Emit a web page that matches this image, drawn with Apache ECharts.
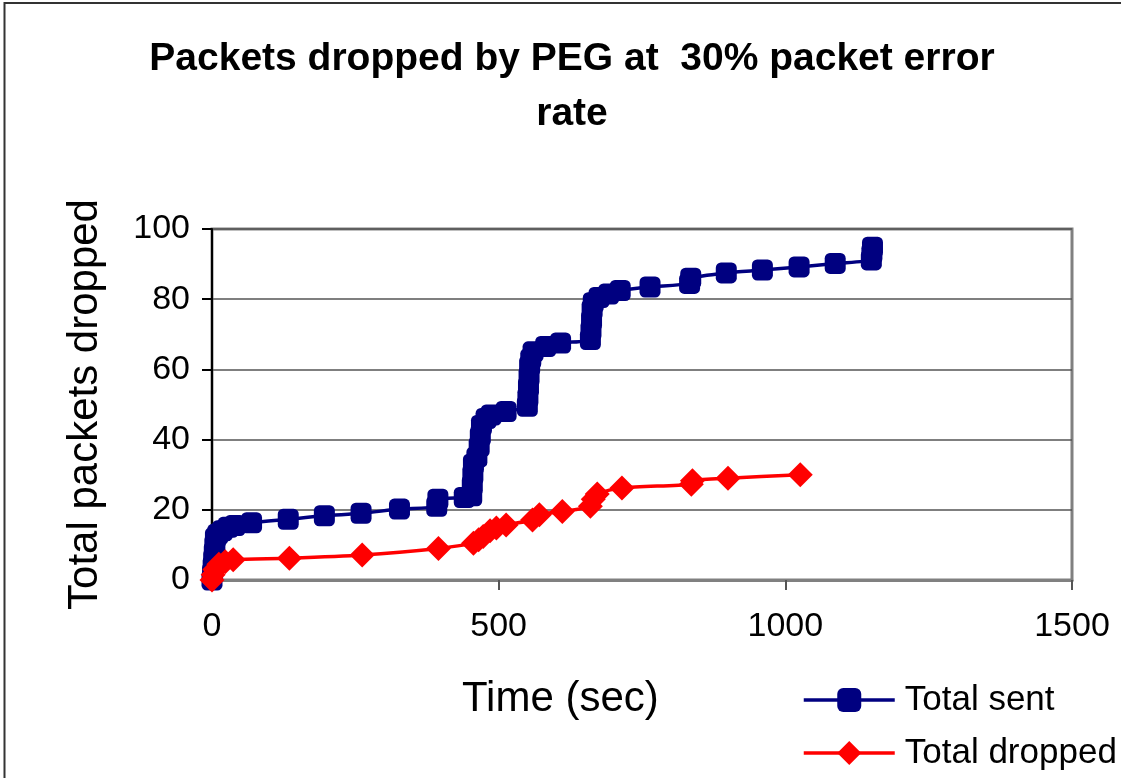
<!DOCTYPE html>
<html>
<head>
<meta charset="utf-8">
<script src="https://cdn.jsdelivr.net/npm/echarts@6/dist/echarts.min.js"></script>
<style>
  html, body { margin: 0; padding: 0; background: #fff; }
  #chart { width: 1121px; height: 778px; }
</style>
</head>
<body>
<div id="chart"></div>
<script>
// Total sent (time in sec, cumulative packets)
const sentTime  = [0, 1, 2, 3, 4, 5, 6, 10, 18, 28, 40, 69, 133, 196, 260, 327, 392, 394, 440,
  453, 454, 455, 456, 462, 466, 468, 470, 478, 487, 513, 550, 551, 552, 553, 554, 556, 560,
  582, 608, 660, 661, 662, 663, 665, 675, 692, 712, 764, 833, 835, 897, 960, 1024, 1087,
  1150, 1151, 1152];
const sentTotal = [0, 2, 4, 6, 8, 10, 12, 13, 14, 15, 15.5, 16.3, 17.3, 18.3, 19, 20.2, 21, 23, 23.5,
  24, 27, 30, 33, 35, 38, 41, 44, 46, 47, 48, 49.5, 52, 55, 58, 61, 63, 65,
  66.5, 67.5, 68.5, 71, 74, 77, 79, 80.5, 81.5, 82.5, 83.5, 84.5, 86, 87.5, 88.3, 89.2, 90.2,
  91.2, 93, 94.8];

// Total dropped
const droppedTime  = [0, 2, 5, 12, 23, 37, 135, 262, 395, 456, 465, 473, 485, 496, 513,
  559, 571, 611, 660, 665, 672, 715, 836, 838, 900, 1026];
const droppedTotal = [0, 1.5, 3, 4.5, 5.2, 5.8, 6.2, 7.1, 9, 10.5, 11.5, 12.4, 14, 14.8, 15.7,
  17.1, 18.6, 19.5, 21, 23, 24.5, 26.2, 27.3, 28.3, 29, 30];

const xMin = 0, xMax = 1500, xStep = 500;
const yMin = 0, yMax = 100, yStep = 20;

const font = 'Liberation Sans, Arial, sans-serif';
const zip = (xs, ys) => xs.map((x, i) => [x, ys[i]]);

const chart = echarts.init(document.getElementById('chart'));
chart.setOption({
  backgroundColor: '#fff',
  animation: false,
  title: {
    text: 'Packets dropped by PEG at  30% packet error\nrate',
    left: 567,
    top: 27,
    textAlign: 'center',
    textStyle: { fontFamily: font, fontSize: 39, fontWeight: 'bold', lineHeight: 55, color: '#000' }
  },
  graphic: [
    { type: 'rect', shape: { x: 4.5, y: 3, width: 1200, height: 900 },
      style: { fill: 'none', stroke: '#333', lineWidth: 2 }, silent: true },
    { type: 'text', left: 462, top: 678,
      style: { text: 'Time (sec)', font: '42px ' + font, fill: '#000' } }
  ],
  legend: {
    orient: 'vertical',
    left: 802,
    top: 680,
    padding: 0,
    itemWidth: 91,
    itemHeight: 30,
    itemGap: 13,
    lineStyle: { width: 3.5 },
    textStyle: { fontFamily: font, fontSize: 35, color: '#000', lineHeight: 40, padding: [0, 0, 0, 5] },
    data: ['Total sent', 'Total dropped']
  },
  grid: {
    left: 212, right: 49, top: 229, bottom: 198,
    show: true, borderColor: '#808080', borderWidth: 3, backgroundColor: '#fff'
  },
  xAxis: {
    type: 'value',
    min: xMin, max: xMax, interval: xStep,
    axisLine: { onZero: false, lineStyle: { color: '#808080', width: 3 } },
    axisTick: { show: true, length: 10, lineStyle: { color: '#555', width: 2 } },
    axisLabel: { fontFamily: font, fontSize: 34, color: '#000', margin: 30, formatter: v => String(v) },
    splitLine: { show: false }
  },
  yAxis: {
    type: 'value',
    min: yMin, max: yMax, interval: yStep,
    name: 'Total packets dropped',
    nameLocation: 'middle',
    nameGap: 106,
    nameTextStyle: { fontFamily: font, fontSize: 42, color: '#000' },
    axisLine: { show: true, lineStyle: { color: '#000', width: 2 } },
    axisTick: { show: true, length: 10, lineStyle: { color: '#000', width: 2 } },
    axisLabel: { fontFamily: font, fontSize: 34, color: '#000', margin: 22 },
    splitLine: { show: true, lineStyle: { color: '#555', width: 1.5 } }
  },
  series: [
    {
      name: 'Total sent',
      type: 'line',
      data: zip(sentTime, sentTotal),
      smooth: 0.25,
      symbol: 'roundRect',
      symbolSize: 21,
      color: '#000080',
      lineStyle: { color: '#000080', width: 3.5 },
      itemStyle: { color: '#000080' },
      z: 3
    },
    {
      name: 'Total dropped',
      type: 'line',
      data: zip(droppedTime, droppedTotal),
      smooth: 0.25,
      symbol: 'diamond',
      symbolSize: 25,
      color: '#ff0000',
      lineStyle: { color: '#ff0000', width: 3.5 },
      itemStyle: { color: '#ff0000' },
      z: 4
    }
  ]
});
</script>
</body>
</html>
